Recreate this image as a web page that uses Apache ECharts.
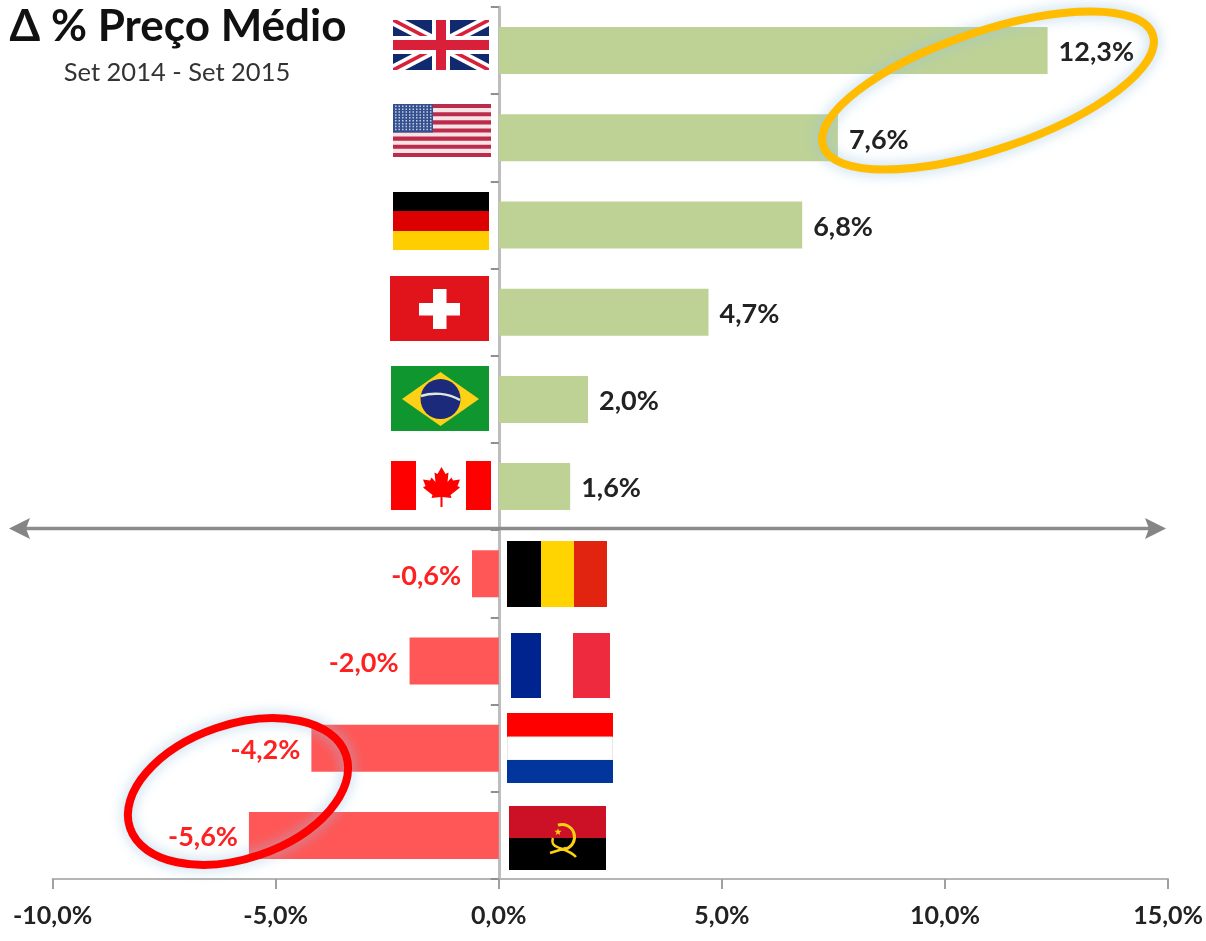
<!DOCTYPE html>
<html><head><meta charset="utf-8">
<style>html,body{margin:0;padding:0;background:#fff}#c{width:1206px;height:941px}</style>
<script src="https://cdn.jsdelivr.net/npm/echarts@6/dist/echarts.min.js"></script>
</head><body><div id="c"></div>
<script>
const categories = ['Reino Unido','Estados Unidos','Alemanha','Suíça','Brasil','Canadá','Bélgica','França','Holanda','Angola'];
const values = [12.3, 7.6, 6.8, 4.7, 2.0, 1.6, -0.6, -2.0, -4.2, -5.6];
const axisTicks = [-10, -5, 0, 5, 10, 15];
const titleText = 'Δ % Preço Médio';
const subtitleText = 'Set 2014 - Set 2015';

const FONT = 'Lato, "Open Sans", sans-serif';
const pct = v => v.toFixed(1).replace('.', ',') + '%';

/* decorative flag drawing */
const rect = (x, y, w, h, fill) => ({type:'rect', shape:{x, y, width:w, height:h}, style:{fill}});
const poly = (points, fill) => ({type:'polygon', shape:{points}, style:{fill}});
function ukFlag(x0, y0, x1, y1){
  const out = [rect(x0,y0,x1-x0,y1-y0,'#10296f')];
  const diag = (t, tv, c) => [
    poly([[x0,y0],[x0+t,y0],[x1,y1-tv],[x1,y1],[x1-t,y1],[x0,y0+tv]], c),
    poly([[x1,y0],[x1-t,y0],[x0,y1-tv],[x0,y1],[x0+t,y1],[x1,y0+tv]], c)
  ];
  out.push(...diag(12,6,'#fff'), ...diag(4,2,'#d8203a'));
  const cx=(x0+x1)/2, cy=(y0+y1)/2;
  out.push(rect(cx-9,y0,18,y1-y0,'#fff'), rect(x0,cy-9,x1-x0,18,'#fff'));
  out.push(rect(cx-5,y0,10,y1-y0,'#d8203a'), rect(x0,cy-5,x1-x0,10,'#d8203a'));
  return out;
}
function usFlag(x0, y0, x1, y1){
  const out = [rect(x0,y0,x1-x0,y1-y0,'#f6e3e6')];
  const h=(y1-y0)/13;
  for(let i=0;i<13;i+=2) out.push(rect(x0,y0+i*h,x1-x0,h,'#bb2b4c'));
  out.push(rect(x0,y0,40,h*7,'#34508f'));
  for(let r=0;r<9;r++) for(let c=0;c<11;c++)
    out.push(rect(x0+2+c*3.5,y0+1.5+r*2.9,1.5,1.5,'#c4cde2'));
  return out;
}
function brFlag(){
  return [
    rect(391,366,98,65,'#10962f'),
    poly([[402,399],[440.5,372],[479,399],[440.5,426]],'#fdd116'),
    {type:'circle',shape:{cx:440.5,cy:399,r:20},style:{fill:'#1c2a7c'}},
    {type:'bezierCurve',shape:{x1:421,y1:396,x2:460,y2:400,cpx1:433,cpy1:392,cpx2:448,cpy2:393},style:{fill:null,stroke:'#dfe8d8',lineWidth:2.5}}
  ];
}
function caFlag(){
  const cx=441.5, top=467;
  const leaf=[[0,0],[4,7],[7,5.5],[6,15],[10,10.5],[11.5,13.5],[18.5,12.5],[16,19],[18.5,20.5],[9,28],[10,31],[1,30],[1,40],[-1,40],[-1,30],[-10,31],[-9,28],[-18.5,20.5],[-16,19],[-18.5,12.5],[-11.5,13.5],[-10,10.5],[-6,15],[-7,5.5],[-4,7]];
  return [rect(391,461,25,49,'#fe0000'), rect(466,461,25,49,'#fe0000'), poly(leaf.map(p=>[cx+p[0],top+p[1]]),'#fe0000')];
}
function aoFlag(){
  const star=[]; const sx=558, sy=832;
  for(let i=0;i<10;i++){const a=-Math.PI/2+i*Math.PI/5, r=i%2?1.6:3.8; star.push([sx+r*Math.cos(a),sy+r*Math.sin(a)]);}
  return [
    rect(509,806,97,32,'#cc1126'), rect(509,838,97,32,'#000'),
    {type:'arc',shape:{cx:562,cy:837,r:12.5,startAngle:-1.9,endAngle:1.7},style:{fill:null,stroke:'#fbd116',lineWidth:3}},
    {type:'bezierCurve',shape:{x1:553,y1:838,x2:576,y2:857,cpx1:549,cpy1:850,cpx2:566,cpy2:846},style:{fill:null,stroke:'#fbd116',lineWidth:2.5}},
    {type:'line',shape:{x1:550,y1:853,x2:566,y2:848},style:{stroke:'#fbd116',lineWidth:2.5}},
    poly(star,'#fbd116')
  ];
}
const flags = [
  ...ukFlag(393,20,489,70),
  ...usFlag(393,104,491,157),
  rect(393,192,96,19,'#000'), rect(393,211,96,20,'#dd0000'), rect(393,231,96,19,'#ffce00'),
  rect(390,276,99,65,'#e1141c'), rect(419,303,41,12.5,'#fff'), rect(433,289,13.5,40,'#fff'),
  ...brFlag(),
  ...caFlag(),
  rect(507,541,34,66,'#000'), rect(541,541,33,66,'#ffd400'), rect(574,541,33,66,'#e0240f'),
  rect(511,633,30,65,'#00248f'), rect(573,633,37,65,'#ee2a3e'),
  rect(507,713,106,24,'#fe0000'),
  {type:'rect',shape:{x:507.5,y:737,width:105,height:23},style:{fill:'#fff',stroke:'#e8e8e8',lineWidth:1}},
  rect(507,760,106,23,'#03369c'),
  ...aoFlag()
];
const arrow = [
  {type:'line',z:50,shape:{x1:20,y1:528.5,x2:1156,y2:528.5},style:{stroke:'#8c8c8c',lineWidth:3.5}},
  {type:'polygon',z:50,shape:{points:[[9,528.5],[30,518],[26,528.5],[30,539]]},style:{fill:'#858585'}},
  {type:'polygon',z:50,shape:{points:[[1166,528.5],[1145,518],[1149,528.5],[1145,539]]},style:{fill:'#858585'}}
];
const ring = (x, y, rx, ry, stroke, lw) => ({type:'ellipse', z:100, x, y, rotation:18.7*Math.PI/180,
  shape:{cx:0,cy:0,rx,ry},
  style:{fill:null,stroke,lineWidth:lw,shadowBlur:14,shadowColor:'rgba(150,195,225,0.75)'}});
const texts = [
  {type:'text',x:178,y:27,style:{text:titleText,font:'bold 44px '+FONT,fill:'#111',textAlign:'center',textVerticalAlign:'middle'}},
  {type:'text',x:177,y:73,style:{text:subtitleText,font:'25.5px '+FONT,fill:'#333',textAlign:'center',textVerticalAlign:'middle'}}
];

const chart = echarts.init(document.getElementById('c'), null, {renderer:'canvas'});
chart.setOption({
  animation:false,
  backgroundColor:'#fff',
  grid:{left:52.6,right:37.5,top:7,bottom:62,containLabel:false},
  xAxis:{type:'value',min:-10,max:15,interval:5,splitLine:{show:false},
    axisLine:{show:true,onZero:false,lineStyle:{color:'#b5b5b5',width:2}},
    axisTick:{show:true,length:10,lineStyle:{color:'#a0a0a0',width:2}},
    axisLabel:{margin:24,color:'#222',fontFamily:FONT,fontWeight:'bold',fontSize:25,
      customValues:axisTicks,formatter:pct}},
  yAxis:{type:'category',inverse:true,data:categories,
    axisLine:{show:true,onZero:true,lineStyle:{color:'#bdbdbd',width:3}},
    axisTick:{show:true,length:8,lineStyle:{color:'#8f8f8f',width:2}},
    axisLabel:{show:false}},
  series:[{type:'bar',barWidth:47,
    data:values.map(v=>({value:v,
      itemStyle:{color:v>=0?'#bed296':'#ff5757'},
      label:{position:v>=0?'right':'left',color:v>=0?'#222':'#ff2020'}})),
    label:{show:true,distance:11,offset:[0,2],fontFamily:FONT,fontWeight:'bold',fontSize:27,
      formatter:p=>pct(p.value)}}],
  graphic:[...flags,...arrow,...texts,
    ring(988,90.5,174,59,'#ffbc00',8),
    ring(238,791.5,114,67,'#fe0000',8)
  ]
});
</script></body></html>
